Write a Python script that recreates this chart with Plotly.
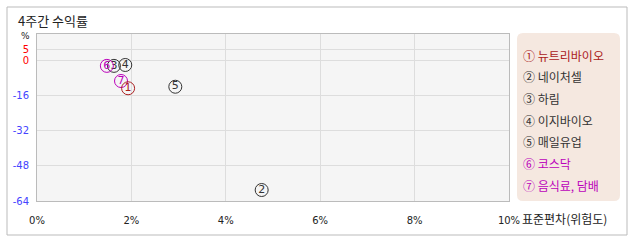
import plotly.graph_objects as go

names = ["뉴트리바이오", "네이처셀", "하림", "이지바이오", "매일유업", "코스닥", "음식료, 담배"]
nums = ["1", "2", "3", "4", "5", "6", "7"]
circled = ["①", "②", "③", "④", "⑤", "⑥", "⑦"]
std_dev = [1.93, 4.76, 1.63, 1.87, 2.93, 1.48, 1.78]
returns = [-12.7, -59.0, -2.5, -2.1, -12.0, -2.5, -9.4]
colors = ["#aa2020", "#333333", "#333333", "#333333", "#333333", "#bb00bb", "#bb00bb"]

x_ticks = [0, 2, 4, 6, 8, 10]
x_labels = ["0%", "2%", "4%", "6%", "8%", "10%"]
y_ticks = [5, 0, -16, -32, -48, -64]
y_labels = ["5", "0", "-16", "-32", "-48", "-64"]
y_colors = ["#ff0000", "#ff0000", "#4444ff", "#4444ff", "#4444ff", "#4444ff"]

W, H = 638, 242
L, R, T, B = 37, 509, 34, 201

def px(xp):
    return (xp - L) / (R - L)

def py(yp):
    return (B - yp) / (B - T)

fig = go.Figure()
order = [1, 2, 3, 4, 5, 6, 0]
for i in order:
    fig.add_trace(go.Scatter(
        x=[std_dev[i]], y=[returns[i]], mode="markers+text",
        text=[nums[i]], textposition="middle center",
        textfont=dict(family="DejaVu Sans", size=11, color=colors[i]),
        marker=dict(symbol="circle-open", size=13, color=colors[i],
                    line=dict(color=colors[i], width=1)),
        showlegend=False, hoverinfo="skip"))

annotations = []
annotations.append(dict(text="4주간 수익률", x=px(16), y=py(21), xref="paper", yref="paper",
                        xanchor="left", yanchor="middle", showarrow=False,
                        font=dict(family="Noto Sans CJK KR", size=13, color="#222222")))
annotations.append(dict(text="%", x=px(25), y=py(36), xref="paper", yref="paper",
                        xanchor="center", yanchor="middle", showarrow=False,
                        font=dict(family="DejaVu Sans", size=9, color="#222222")))
annotations.append(dict(text="표준편차(위험도)", x=px(520), y=py(218), xref="paper", yref="paper",
                        xanchor="left", yanchor="middle", showarrow=False,
                        font=dict(family="Noto Sans CJK KR", size=12, color="#222222")))
for k in range(len(names)):
    annotations.append(dict(text=circled[k] + " " + names[k], x=px(521), y=py(55 + k * 21.7),
                            xref="paper", yref="paper", xanchor="left", yanchor="middle",
                            showarrow=False,
                            font=dict(family="Noto Sans CJK KR", size=12, color=colors[k])))

def rrect(x0, y0, x1, y1, r):
    X0, X1 = px(x0), px(x1)
    Y0, Y1 = py(y0), py(y1)
    rx = r / (R - L)
    ry = r / (B - T)
    return (f"M {X0+rx},{Y0} L {X1-rx},{Y0} Q {X1},{Y0} {X1},{Y0-ry} "
            f"L {X1},{Y1+ry} Q {X1},{Y1} {X1-rx},{Y1} L {X0+rx},{Y1} "
            f"Q {X0},{Y1} {X0},{Y1+ry} L {X0},{Y0-ry} Q {X0},{Y0} {X0+rx},{Y0} Z")

shapes = [
    dict(type="rect", xref="paper", yref="paper", x0=px(7), x1=px(627), y0=py(235), y1=py(7),
         line=dict(color="#bbbbbb", width=1), fillcolor="rgba(0,0,0,0)", layer="below"),
    dict(type="path", xref="paper", yref="paper", path=rrect(517, 33, 620, 201, 6),
         line=dict(width=0), fillcolor="#f5e8e0", layer="below"),
]

fig.update_layout(
    width=W, height=H,
    margin=dict(l=L, r=W - R, t=T, b=H - B, pad=0),
    paper_bgcolor="white", plot_bgcolor="#f5f5f5",
    showlegend=False,
    annotations=annotations, shapes=shapes,
    xaxis=dict(range=[0, 10], tickvals=x_ticks, ticktext=x_labels,
               showgrid=True, gridcolor="#dddddd", gridwidth=1, zeroline=False,
               showline=True, linecolor="#bbbbbb", linewidth=1, mirror=True,
               ticks="", tickfont=dict(family="DejaVu Sans", size=10, color="#222222"),
               ticklabelstandoff=10, fixedrange=True),
    yaxis=dict(range=[-64, 12], tickvals=y_ticks,
               ticktext=[f"<span style='color:{c}'>{t}</span>" for t, c in zip(y_labels, y_colors)],
               showgrid=True, gridcolor="#dddddd", gridwidth=1, zeroline=False,
               showline=True, linecolor="#bbbbbb", linewidth=1, mirror=True,
               ticks="", tickfont=dict(family="DejaVu Sans", size=10),
               ticklabelstandoff=5, fixedrange=True),
)

fig.write_html("out.html", config={"displayModeBar": False})
